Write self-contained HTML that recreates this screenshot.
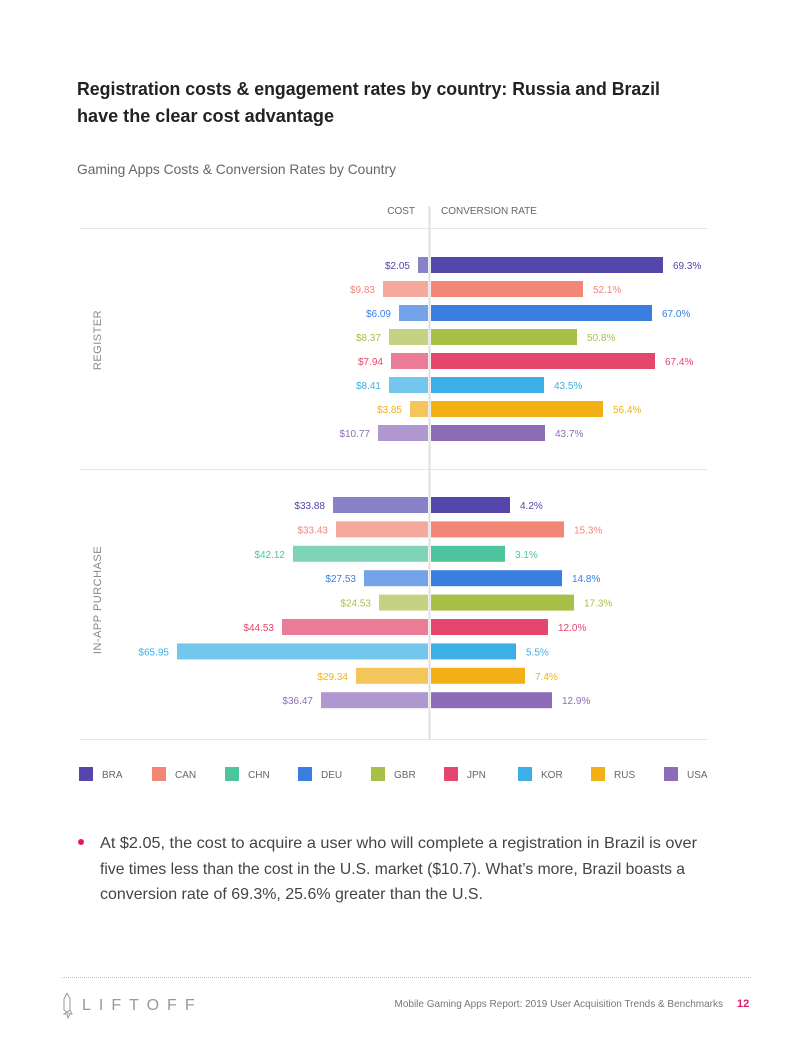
<!DOCTYPE html>
<html><head><meta charset="utf-8"><style>
body{margin:0;background:#fff;width:800px;height:1035px;overflow:hidden;font-family:"Liberation Sans",sans-serif}
</style></head><body>
<svg width="800" height="1035" xmlns="http://www.w3.org/2000/svg" font-family="Liberation Sans, sans-serif">
<text x="77" y="95" font-size="18.5" font-weight="bold" fill="#222" textLength="583" lengthAdjust="spacingAndGlyphs">Registration costs &amp; engagement rates by country: Russia and Brazil</text>
<text x="77" y="122" font-size="18.5" font-weight="bold" fill="#222" textLength="257" lengthAdjust="spacingAndGlyphs">have the clear cost advantage</text>
<text x="77" y="174" font-size="14" fill="#666" textLength="319" lengthAdjust="spacingAndGlyphs">Gaming Apps Costs &amp; Conversion Rates by Country</text>
<text x="415" y="214" font-size="10" fill="#666" text-anchor="end">COST</text>
<text x="441" y="214" font-size="10" fill="#666">CONVERSION RATE</text>
<line x1="80" y1="228.5" x2="707" y2="228.5" stroke="#e6e6e6"/>
<line x1="80" y1="469.5" x2="707" y2="469.5" stroke="#e6e6e6"/>
<line x1="80" y1="739.5" x2="707" y2="739.5" stroke="#e6e6e6"/>
<line x1="429.5" y1="206" x2="429.5" y2="740" stroke="#e0e0e0" stroke-width="2"/>
<text transform="translate(101,340) rotate(-90)" font-size="11" fill="#888" text-anchor="middle" letter-spacing="0.5">REGISTER</text>
<text transform="translate(101,600) rotate(-90)" font-size="11" fill="#888" text-anchor="middle" letter-spacing="0.5">IN-APP PURCHASE</text>
<g font-size="10" id="bars"></g>
<g font-size="10" fill="#666" id="leg"></g>
<circle cx="81" cy="842" r="3" fill="#e5176d"/>
<g font-size="16" fill="#444">
<text x="100" y="848" textLength="597" lengthAdjust="spacingAndGlyphs">At $2.05, the cost to acquire a user who will complete a registration in Brazil is over</text>
<text x="100" y="874" textLength="585" lengthAdjust="spacingAndGlyphs">five times less than the cost in the U.S. market ($10.7). What’s more, Brazil boasts a</text>
<text x="100" y="899" textLength="383" lengthAdjust="spacingAndGlyphs">conversion rate of 69.3%, 25.6% greater than the U.S.</text>
</g>
<line x1="62" y1="977.5" x2="752" y2="977.5" stroke="#bbb" stroke-dasharray="1,1"/>
<path d="M67 993 L70 999 L70 1010 L64 1014 L67 1014 L68 1018 L70 1014 L72 1014 L70 1010" fill="none" stroke="#999"/>
<path d="M67 993 L64 999 L64 1010 L70 1014" fill="none" stroke="#999"/>
<text x="82" y="1010" font-size="16" fill="#999" letter-spacing="8">LIFTOFF</text>
<text x="723" y="1007" font-size="10" fill="#777" text-anchor="end">Mobile Gaming Apps Report: 2019 User Acquisition Trends &amp; Benchmarks</text>
<text x="737" y="1007" font-size="11" fill="#e5176d" font-weight="bold">12</text>
</svg>
<script>
const dark=['#5446ab','#f28778','#4ec49e','#3a7fe0','#a8bf48','#e4466d','#3cb0e6','#f2b015','#8e6db8'];
const light=['#8a82c8','#f5a89c','#7fd4b8','#74a3ea','#c4d382','#ea7c98','#74c6ec','#f4c55a','#af98cf'];
const names=['BRA','CAN','CHN','DEU','GBR','JPN','KOR','RUS','USA'];
const reg=[[0,'$2.05',418,'69.3%',663],[1,'$9.83',383,'52.1%',583],[3,'$6.09',399,'67.0%',652],[4,'$8.37',389,'50.8%',577],[5,'$7.94',391,'67.4%',655],[6,'$8.41',389,'43.5%',544],[7,'$3.85',410,'56.4%',603],[8,'$10.77',378,'43.7%',545]];
const iap=[[0,'$33.88',333,'4.2%',510],[1,'$33.43',336,'15.3%',564],[2,'$42.12',293,'3.1%',505],[3,'$27.53',364,'14.8%',562],[4,'$24.53',379,'17.3%',574],[5,'$44.53',282,'12.0%',548],[6,'$65.95',177,'5.5%',516],[7,'$29.34',356,'7.4%',525],[8,'$36.47',321,'12.9%',552]];
let s='';
function rows(d,y0,step){d.forEach((r,i)=>{const y=y0+i*step;const[c,cl,cx,vl,vx]=r;
s+=`<rect x="${cx}" y="${y-8}" width="${428-cx}" height="16" fill="${light[c]}"/>`;
s+=`<rect x="431" y="${y-8}" width="${vx-431}" height="16" fill="${dark[c]}"/>`;
s+=`<text x="${cx-8}" y="${y+4}" text-anchor="end" fill="${dark[c]}">${cl}</text>`;
s+=`<text x="${vx+10}" y="${y+4}" fill="${dark[c]}">${vl}</text>`;});}
rows(reg,265,24);rows(iap,505,24.4);
document.getElementById('bars').innerHTML=s;
let l='';const lx=[79,152,225,298,371,444,518,591,664];
names.forEach((n,i)=>{l+=`<rect x="${lx[i]}" y="767" width="14" height="14" fill="${dark[i]}"/><text x="${lx[i]+23}" y="778">${n}</text>`;});
document.getElementById('leg').innerHTML=l;
</script>
</body></html>
